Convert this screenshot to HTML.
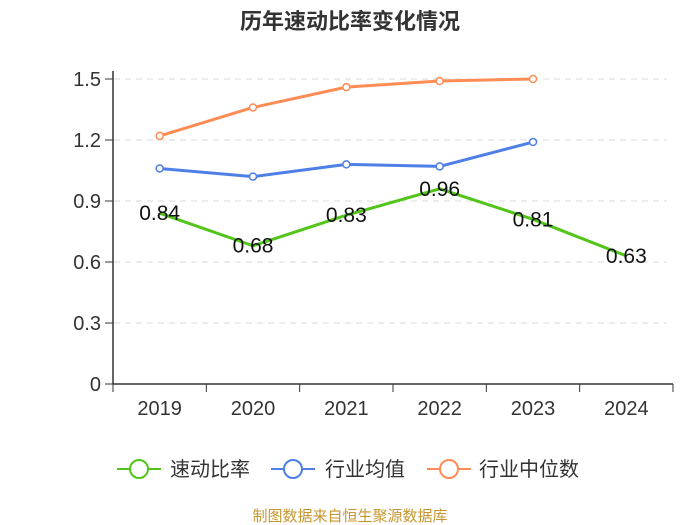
<!DOCTYPE html>
<html><head><meta charset="utf-8"><style>
body{margin:0;background:#fff;}
svg{display:block;font-family:"Liberation Sans","Noto Sans CJK SC",sans-serif;}
</style></head><body>
<svg id="c" width="700" height="525">
<text x="350" y="29" text-anchor="middle" font-size="22" font-weight="bold" fill="#333">历年速动比率变化情况</text>
<g id="grid"></g><g id="axes"></g><g id="series"></g>
<g>
<g><line x1="117" y1="469" x2="161" y2="469" stroke="#52c41a" stroke-width="2"/><circle cx="139" cy="469" r="9" fill="#fff" stroke="#52c41a" stroke-width="2"/><text x="170" y="476" font-size="20" fill="#333">速动比率</text></g>
<g><line x1="271" y1="469" x2="315" y2="469" stroke="#4e7fe6" stroke-width="2"/><circle cx="293" cy="469" r="9" fill="#fff" stroke="#4e7fe6" stroke-width="2"/><text x="325" y="476" font-size="20" fill="#333">行业均值</text></g>
<g><line x1="427" y1="469" x2="471" y2="469" stroke="#ff8c55" stroke-width="2"/><circle cx="449" cy="469" r="9" fill="#fff" stroke="#ff8c55" stroke-width="2"/><text x="479" y="476" font-size="20" fill="#333">行业中位数</text></g>
</g>
<text x="350" y="521" text-anchor="middle" font-size="15" fill="#c8962e">制图数据来自恒生聚源数据库</text>
</svg>
<script>
const categories=["2019","2020","2021","2022","2023","2024"];
const quickRatio=[0.84,0.68,0.83,0.96,0.81,0.63];
const industryMean=[1.06,1.02,1.08,1.07,1.19];
const industryMedian=[1.22,1.36,1.46,1.49,1.50];
const yTicks=[0,0.3,0.6,0.9,1.2,1.5];
const NS="http://www.w3.org/2000/svg";
const L=113,R=673,T=79,B=384,band=(R-L)/categories.length;
const x=i=>L+band*(i+0.5), y=v=>B-(v/1.5)*(B-T);
function mk(tag,attrs,parent,txt){const e=document.createElementNS(NS,tag);for(const k in attrs)e.setAttribute(k,attrs[k]);if(txt!==undefined)e.textContent=txt;parent.appendChild(e);return e;}
const grid=document.getElementById('grid'),axes=document.getElementById('axes'),ser=document.getElementById('series');
yTicks.forEach(t=>{
 if(t>0){const g=mk('line',{x1:L+1,x2:R-6,y1:y(t),y2:y(t),stroke:'#d9d9d9','stroke-dasharray':'6,5','stroke-width':1},grid);
 
 }
 const tk=mk('line',{x1:L-8,x2:L,y1:y(t),y2:y(t),stroke:'#333'},axes);
 
 
 const lb=mk('text',{x:L-12,y:y(t)+7,'text-anchor':'end','font-size':20,fill:'#333'},axes,t===0?'0':t.toFixed(1));
 
 
});
const ya=mk('line',{x1:L,x2:L,y1:T-8,y2:B,stroke:'#333','stroke-width':1.5},axes);


const xa=mk('line',{x1:L,x2:R,y1:B,y2:B,stroke:'#333','stroke-width':1.5},axes);


for(let i=0;i<=categories.length;i++){const t=mk('line',{x1:L+band*i,x2:L+band*i,y1:B,y2:B+8,stroke:'#333'},axes);
 
 }
categories.forEach((c,i)=>{const t=mk('text',{x:x(i),y:B+31,'text-anchor':'middle','font-size':20,fill:'#333'},axes,c);
 
 });
function line(vals,color,name,markers,labels){
 const p=mk('polyline',{points:vals.map((v,i)=>x(i)+','+y(v)).join(' '),fill:'none',stroke:color,'stroke-width':3,'stroke-linejoin':'round'},ser);
 
 
 vals.forEach((v,i)=>{
  if(markers){const c=mk('circle',{cx:x(i),cy:y(v),r:3.5,fill:'#fff',stroke:color,'stroke-width':1.5},ser);
   
   }
  if(labels){const t=mk('text',{x:x(i),y:y(v)+7,'text-anchor':'middle','font-size':21,fill:'#111'},ser,v.toFixed(2));
   
   }
 });
}
line(industryMedian,'#ff8c55','industry-median',true,false);
line(industryMean,'#4e7fe6','industry-mean',true,false);
line(quickRatio,'#52c41a','quick-ratio',false,true);
</script>
</body></html>
